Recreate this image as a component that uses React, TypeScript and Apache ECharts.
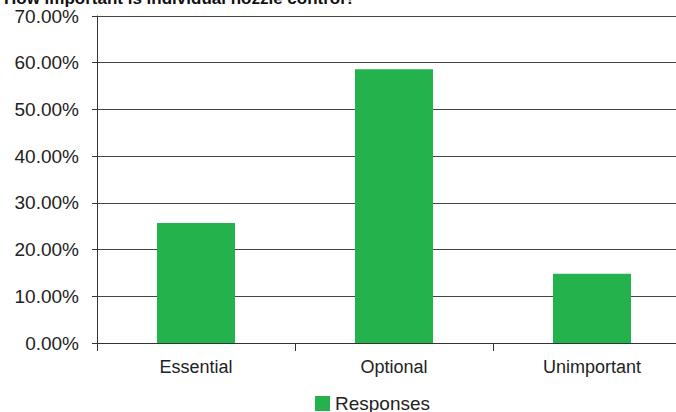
import React, { useEffect, useRef } from "react";
import * as echarts from "echarts";

const categories = ["Essential", "Optional", "Unimportant"];
const responses = [25.7, 58.6, 14.8];
const yTicks = [0, 10, 20, 30, 40, 50, 60, 70];
const titleText = "How important is individual nozzle control?";
const seriesName = "Responses";

export default function App() {
  const ref = useRef<HTMLDivElement>(null);
  useEffect(() => {
    document.body.style.margin = "0";
    const chart = echarts.init(ref.current!, null, { renderer: "svg" });
    const font = "'Liberation Sans', Arial, Helvetica, sans-serif";
    chart.setOption({
      animation: false,
      backgroundColor: "#ffffff",
      title: {
        text: titleText,
        left: 4,
        top: -10,
        padding: 0,
        textStyle: { fontFamily: font, fontSize: 17, fontWeight: "bold", color: "#111" },
      },
      legend: {
        data: [seriesName],
        left: 315,
        top: 394,
        padding: 0,
        itemWidth: 15,
        itemHeight: 15,
        itemGap: 13,
        icon: "rect",
        textStyle: { fontFamily: font, fontSize: 19, color: "#222" },
      },
      grid: { left: 97, top: 16, right: 9, height: 327, containLabel: false },
      xAxis: {
        type: "category",
        data: categories,
        axisLine: { lineStyle: { color: "#333", width: 1 } },
        axisTick: { show: true, length: 8, lineStyle: { color: "#333" }, alignWithLabel: false },
        axisLabel: { fontFamily: font, fontSize: 18, color: "#222", margin: 15 },
      },
      yAxis: {
        type: "value",
        min: 0,
        max: yTicks[yTicks.length - 1],
        interval: 10,
        axisLine: { show: true, lineStyle: { color: "#333", width: 1 } },
        axisTick: { show: true, length: 5, lineStyle: { color: "#333" } },
        splitLine: { show: true, lineStyle: { color: "#444", width: 1 } },
        axisLabel: {
          fontFamily: font,
          fontSize: 19,
          color: "#222",
          margin: 18,
          formatter: (v: number) => v.toFixed(2) + "%",
        },
      },
      series: [
        {
          name: seriesName,
          type: "bar",
          data: responses,
          barWidth: 78,
          itemStyle: { color: "#24B24C" },
        },
      ],
    });
    return () => chart.dispose();
  }, []);
  return (
    <div style={{ width: 676, height: 412, overflow: "hidden", position: "relative" }}>
      <div ref={ref} style={{ width: 700, height: 412 }} />
    </div>
  );
}
